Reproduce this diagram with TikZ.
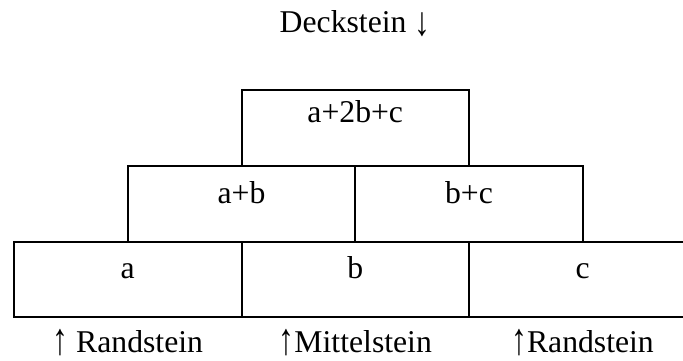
\documentclass[tikz,border=0pt]{standalone}
\usepackage{fontspec}
\usepackage{graphicx}
\setmainfont{Liberation Serif}
% tall, thin arrows: keep the glyph's width, stretch it to a given height
\newcommand{\tallup}{\raisebox{-4pt}{\resizebox{\width}{26.5pt}{\raisebox{\depth}{↑}}}}
\newcommand{\talldown}{\raisebox{-5pt}{\resizebox{\width}{24pt}{\raisebox{\depth}{↓}}}}
\begin{document}
\begin{tikzpicture}[x=1pt,y=-1pt,
  stone/.style={draw, line width=2pt, inner sep=0pt, outer sep=0pt,
    minimum width=227.5pt, anchor=north west,
    font=\fontsize{31.7}{38}\selectfont},
  toprow/.style={stone, text height=32pt, text depth=44pt},
  midrow/.style={stone, text height=37pt, text depth=39pt},
  botrow/.style={stone, text height=36pt, text depth=39pt},
  caption/.style={anchor=base, inner sep=0pt, font=\fontsize{31.7}{38}\selectfont}]
  \useasboundingbox (0,0) rectangle (683,360);
  % top stone
  \node[toprow] (t) at (241.5,90) {a+2b+c};
  % middle row
  \node[midrow] (m1) at (127.75,166) {a+b};
  \node[midrow] (m2) at (355.25,166) {b+c};
  % bottom row
  \node[botrow] (b1) at (14,242) {a};
  \node[botrow] (b2) at (241.5,242) {b};
  \node[botrow] (b3) at (469,242) {c};
  % captions
  \node[caption] (deck) at (355,32) {Deckstein \talldown};
  \node[caption] (r1) at (127.75,352) {\tallup\ Randstein};
  \node[caption] (mi) at (355.25,352) {\tallup Mittelstein};
  \node[caption] (r2) at (582.5,352) {\tallup Randstein};
\end{tikzpicture}
\end{document}
